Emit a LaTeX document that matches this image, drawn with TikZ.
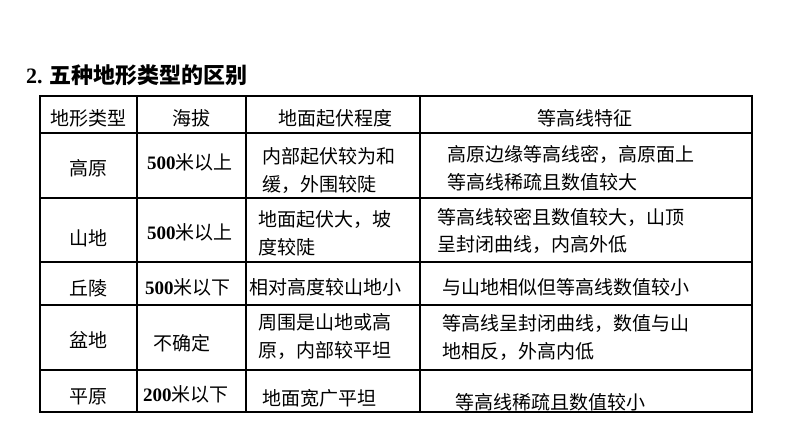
\documentclass[tikz,border=0pt]{standalone}
\usepackage{fontspec}
\setmainfont{Noto Sans CJK SC}
\newfontfamily\numf{Liberation Serif}
\begin{document}
\begin{tikzpicture}[x=1pt,y=-1pt,
 t/.style={anchor=west,inner sep=0pt,font=\fontsize{19}{20}\selectfont},
 c/.style={anchor=center,inner sep=0pt,font=\fontsize{19}{20}\selectfont},
 ln/.style={line width=1.3pt}]
\useasboundingbox (0,0) rectangle (794,447);
\node[anchor=west,inner sep=0pt,font=\fontsize{22}{24}\selectfont\bfseries] (title) at (26,75) {{\numf\bfseries 2.} 五种地形类型的区别};
\draw[ln] (40,96) rectangle (752,412);
\foreach \x in {137,246,420} \draw[ln] (\x,96) -- (\x,412);
\foreach \y in {133,198,262,305,370} \draw[ln] (40,\y) -- (752,\y);
\node[c] (h1) at (88,118) {地形类型};
\node[c] (h2) at (191,118) {海拔};
\node[c] (h3) at (335,118) {地面起伏程度};
\node[c] (h4) at (585,118) {等高线特征};
\node[c] (a1) at (88,168) {高原};
\node[t] (a2) at (147,162) {{\numf\bfseries 500}米以上};
\node[t] (a3) at (262,156) {内部起伏较为和};
\node[t] (a3b) at (262,184) {缓，外围较陡};
\node[t] (a4) at (447,154) {高原边缘等高线密，高原面上};
\node[t] (a4b) at (447,182) {等高线稀疏且数值较大};
\node[c] (b1) at (88,238) {山地};
\node[t] (b2) at (147,232) {{\numf\bfseries 500}米以上};
\node[t] (b3) at (258,220) {地面起伏大，坡};
\node[t] (b3b) at (258,247) {度较陡};
\node[t] (b4) at (437,217) {等高线较密且数值较大，山顶};
\node[t] (b4b) at (437,245) {呈封闭曲线，内高外低};
\node[c] (c1) at (88,288) {丘陵};
\node[t] (c2) at (145,287) {{\numf\bfseries 500}米以下};
\node[t] (c3) at (249,287) {相对高度较山地小};
\node[t] (c4) at (442,287) {与山地相似但等高线数值较小};
\node[c] (d1) at (88,340) {盆地};
\node[t] (d2) at (153,343) {不确定};
\node[t] (d3) at (258,322) {周围是山地或高};
\node[t] (d3b) at (258,350) {原，内部较平坦};
\node[t] (d4) at (442,323) {等高线呈封闭曲线，数值与山};
\node[t] (d4b) at (442,352) {地相反，外高内低};
\node[c] (e1) at (88,397) {平原};
\node[t] (e2) at (143,394) {{\numf\bfseries 200}米以下};
\node[t] (e3) at (262,398) {地面宽广平坦};
\node[t] (e4) at (455,402) {等高线稀疏且数值较小};
\end{tikzpicture}
\end{document}
